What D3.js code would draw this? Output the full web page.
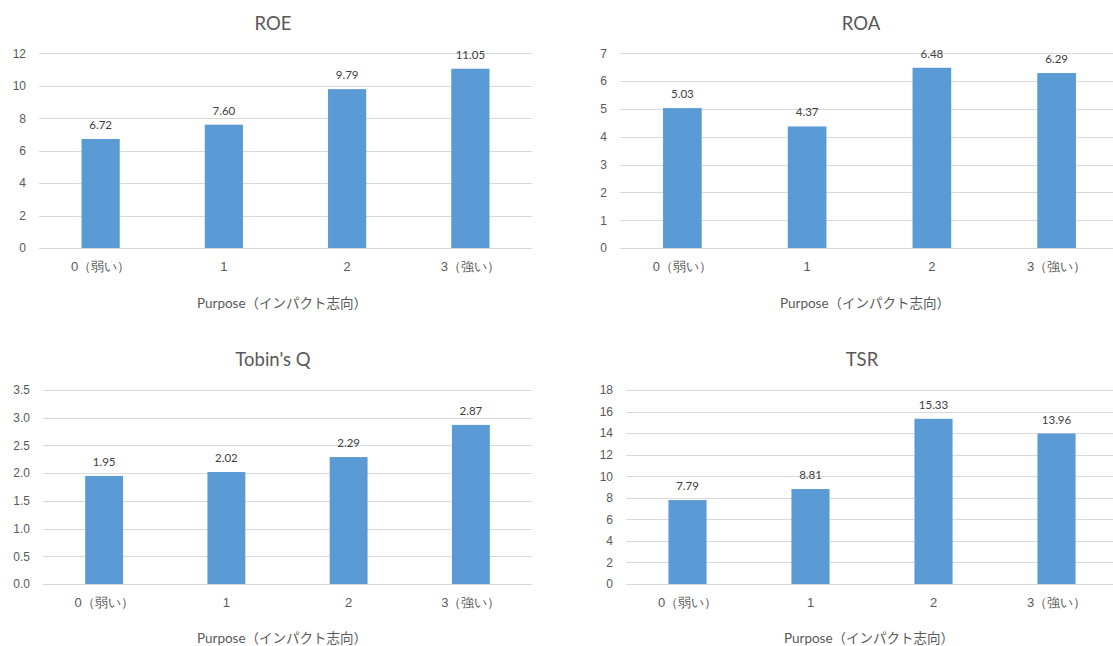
<!DOCTYPE html>
<html>
<head>
<meta charset="utf-8">
<script src="https://cdn.jsdelivr.net/npm/d3@7"></script>
<style>
  html, body { margin: 0; padding: 0; background: #fff; }
  svg { display: block; font-family: Lato, "Noto Sans CJK JP", sans-serif; }
  .grid line { stroke: #d9d9d9; stroke-width: 1; shape-rendering: crispEdges; }
  .grid .domain { display: none; }
  .grid text { fill: #595959; font-size: 12px; }
  .cat .domain { display: none; }
  .cat text { fill: #595959; font-size: 13px; }
  .title { fill: #595959; font-size: 18.5px; }
  .axis-title { fill: #595959; font-size: 13.5px; }
  .value { fill: #404040; font-size: 11.5px; }
</style>
</head>
<body>
<svg id="chart" width="1113" height="646"></svg>
<script>
// Categories shared by all four panels
const categories = ["0（弱い）", "1", "2", "3（強い）"];
const xAxisTitle = "Purpose（インパクト志向）";

// Series values
const roeValues = [6.72, 7.60, 9.79, 11.05];
const roaValues = [5.03, 4.37, 6.48, 6.29];
const tobinValues = [1.95, 2.02, 2.29, 2.87];
const tsrValues = [7.79, 8.81, 15.33, 13.96];

// Tick values
const roeTicks = [0, 2, 4, 6, 8, 10, 12];
const roaTicks = [0, 1, 2, 3, 4, 5, 6, 7];
const tobinTicks = [0, 0.5, 1.0, 1.5, 2.0, 2.5, 3.0, 3.5];
const tsrTicks = [0, 2, 4, 6, 8, 10, 12, 14, 16, 18];

// Panel layouts
const panels = [
  { title: "ROE", values: roeValues, ticks: roeTicks, fmt: d3.format("d"),
    x0: 39, x1: 532, y0: 248, y1: 53.3, titleX: 273, titleY: 23, axisTitleX: 282, axisTitleY: 303 },
  { title: "ROA", values: roaValues, ticks: roaTicks, fmt: d3.format("d"),
    x0: 620, x1: 1119, y0: 248, y1: 53.3, titleX: 861, titleY: 23, axisTitleX: 865, axisTitleY: 303 },
  { title: "Tobin's Q", values: tobinValues, ticks: tobinTicks, fmt: d3.format(".1f"),
    x0: 43, x1: 532, y0: 584, y1: 390, titleX: 273, titleY: 359, axisTitleX: 282, axisTitleY: 638 },
  { title: "TSR", values: tsrValues, ticks: tsrTicks, fmt: d3.format("d"),
    x0: 626, x1: 1118, y0: 584, y1: 390, titleX: 862, titleY: 359, axisTitleX: 869, axisTitleY: 638 }
];

const svg = d3.select("#chart");
svg.append("defs").append("clipPath").attr("id", "page")
  .append("rect").attr("width", 1113).attr("height", 646);

panels.forEach(p => {
  const g = svg.append("g").attr("clip-path", "url(#page)");

  const x = d3.scaleBand().domain(categories).range([p.x0, p.x1]).padding(0);
  const y = d3.scaleLinear()
    .domain([0, d3.max(p.ticks)])
    .range([p.y0, p.y1]);

  // Horizontal gridlines with value labels
  g.append("g").attr("class", "grid")
    .attr("transform", `translate(${p.x0},0)`)
    .call(d3.axisLeft(y).tickValues(p.ticks).tickFormat(p.fmt)
      .tickSizeInner(-(p.x1 - p.x0)).tickSizeOuter(0).tickPadding(13));

  // Bars
  const barW = x.bandwidth() * 0.31;
  g.selectAll("rect.bar").data(p.values).enter().append("rect")
    .attr("class", "bar")
    .attr("x", (d, i) => x(categories[i]) + x.bandwidth() / 2 - barW / 2)
    .attr("y", d => y(d))
    .attr("width", barW)
    .attr("height", d => y(0) - y(d))
    .attr("fill", "#5b9bd5");

  // Value labels above bars
  g.selectAll("text.value").data(p.values).enter().append("text")
    .attr("class", "value")
    .attr("x", (d, i) => x(categories[i]) + x.bandwidth() / 2)
    .attr("y", d => y(d) - 10)
    .attr("text-anchor", "middle")
    .text(d => d.toFixed(2));

  // Category axis
  g.append("g").attr("class", "cat")
    .attr("transform", `translate(0,${p.y0})`)
    .call(d3.axisBottom(x).tickSize(0).tickPadding(14));

  // Panel title
  g.append("text").attr("class", "title")
    .attr("x", p.titleX).attr("y", p.titleY)
    .attr("text-anchor", "middle").attr("dominant-baseline", "central")
    .text(p.title);

  // Category axis title
  g.append("text").attr("class", "axis-title")
    .attr("x", p.axisTitleX).attr("y", p.axisTitleY)
    .attr("text-anchor", "middle").attr("dominant-baseline", "central")
    .text(xAxisTitle);
});
</script>
</body>
</html>
